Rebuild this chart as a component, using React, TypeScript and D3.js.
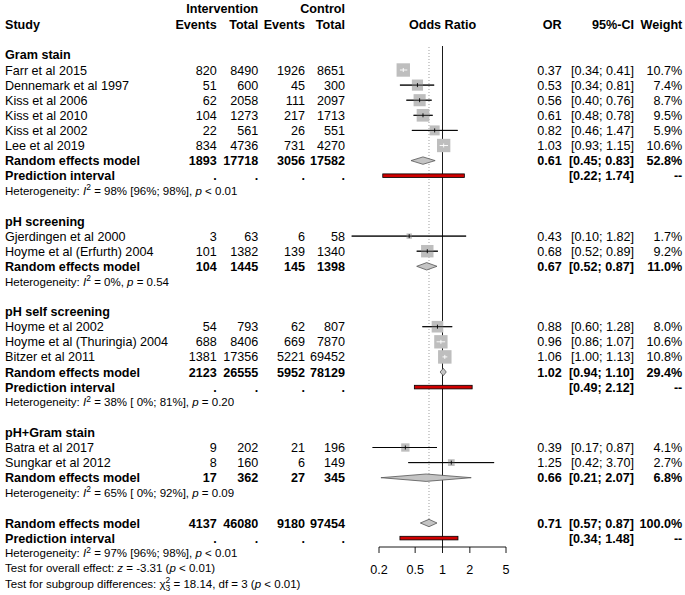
import React from "react";
import * as d3 from "d3";

// ---------- data ----------
const studyNames = [
  "Farr et al 2015",
  "Dennemark et al 1997",
  "Kiss et al 2006",
  "Kiss et al 2010",
  "Kiss et al 2002",
  "Lee et al 2019",
  "Gjerdingen et al 2000",
  "Hoyme et al (Erfurth) 2004",
  "Hoyme et al 2002",
  "Hoyme et al (Thuringia) 2004",
  "Bitzer et al 2011",
  "Batra et al 2017",
  "Sungkar et al 2012",
];
const studyGroup = [0, 0, 0, 0, 0, 0, 1, 1, 2, 2, 2, 3, 3];
const eventsE = [820, 51, 62, 104, 22, 834, 3, 101, 54, 688, 1381, 9, 8];
const totalE = [8490, 600, 2058, 1273, 561, 4736, 63, 1382, 793, 8406, 17356, 202, 160];
const eventsC = [1926, 45, 111, 217, 26, 731, 6, 139, 62, 669, 5221, 21, 6];
const totalC = [8651, 300, 2097, 1713, 551, 4270, 58, 1340, 807, 7870, 69452, 196, 149];
const studyOR = [0.37, 0.53, 0.56, 0.61, 0.82, 1.03, 0.43, 0.68, 0.88, 0.96, 1.06, 0.39, 1.25];
const studyLo = [0.34, 0.34, 0.4, 0.48, 0.46, 0.93, 0.1, 0.52, 0.6, 0.86, 1.0, 0.17, 0.42];
const studyHi = [0.41, 0.81, 0.76, 0.78, 1.47, 1.15, 1.82, 0.89, 1.28, 1.07, 1.13, 0.87, 3.7];
const studyWeight = [10.7, 7.4, 8.7, 9.5, 5.9, 10.6, 1.7, 9.2, 8.0, 10.6, 10.8, 4.1, 2.7];

const groupNames = ["Gram stain", "pH screening", "pH self screening", "pH+Gram stain"];
const groupEventsE = [1893, 104, 2123, 17];
const groupTotalE = [17718, 1445, 26555, 362];
const groupEventsC = [3056, 145, 5952, 27];
const groupTotalC = [17582, 1398, 78129, 345];
const groupOR = [0.61, 0.67, 1.02, 0.66];
const groupLo = [0.45, 0.52, 0.94, 0.21];
const groupHi = [0.83, 0.87, 1.1, 2.07];
const groupWeight = [52.8, 11.0, 29.4, 6.8];
const groupPiLo: (number | null)[] = [0.22, null, 0.49, null];
const groupPiHi: (number | null)[] = [1.74, null, 2.12, null];
const groupI2 = ["98% [96%; 98%]", "0%", "38% [ 0%; 81%]", "65% [ 0%; 92%]"];
const groupP = ["< 0.01", "= 0.54", "= 0.20", "= 0.09"];

const overallCounts = [4137, 46080, 9180, 97454];
const overallOR = 0.71;
const overallLo = 0.57;
const overallHi = 0.87;
const overallWeight = 100.0;
const overallPiLo = 0.34;
const overallPiHi = 1.48;
const overallI2 = "97% [96%; 98%]";
const overallP = "< 0.01";
const overallZ = "-3.31";
const overallZP = "< 0.01";
const subgroupChi = "18.14";
const subgroupDf = 3;
const subgroupP = "< 0.01";

const tickValues = [0.2, 0.5, 1, 2, 5];
const tickLabels = ["0.2", "0.5", "1", "2", "5"];

// ---------- layout ----------
const W = 685;
const H = 595;
const FONT = "'Liberation Sans', Arial, Helvetica, sans-serif";
const FS = 12.6;
const FS_SMALL = 11.5;
const FS_SUP = 8.5;
const ROW0 = 70;
const ROWH = 15.1;
const rowY = (k: number) => ROW0 + k * ROWH;

const COL_NAME = 5;
const COL_EVE = 216.7;
const COL_TOTE = 258.3;
const COL_EVC = 305;
const COL_TOTC = 345;
const COL_OR = 561.7;
const COL_CI = 634;
const COL_W = 682.3;
const AXIS_Y = 547;

const fmt2 = (v: number) => v.toFixed(2);
const ciText = (lo: number, hi: number) => `[${fmt2(lo)}; ${fmt2(hi)}]`;

type Row =
  | { type: "title"; k: number; label: string }
  | { type: "study"; k: number; i: number }
  | { type: "rem"; k: number; counts: number[]; or: number; lo: number; hi: number; w: number }
  | { type: "pi"; k: number; lo: number; hi: number }
  | { type: "het"; k: number; i2: string; p: string }
  | { type: "zline"; k: number }
  | { type: "chiline"; k: number };

function buildRows(): Row[] {
  const rows: Row[] = [];
  let k = -1;
  groupNames.forEach((g, gi) => {
    rows.push({ type: "title", k: k++, label: g });
    studyNames.forEach((_, i) => {
      if (studyGroup[i] === gi) rows.push({ type: "study", k: k++, i });
    });
    rows.push({
      type: "rem",
      k: k++,
      counts: [groupEventsE[gi], groupTotalE[gi], groupEventsC[gi], groupTotalC[gi]],
      or: groupOR[gi],
      lo: groupLo[gi],
      hi: groupHi[gi],
      w: groupWeight[gi],
    });
    const pl = groupPiLo[gi];
    const ph = groupPiHi[gi];
    if (pl != null && ph != null) rows.push({ type: "pi", k: k++, lo: pl, hi: ph });
    rows.push({ type: "het", k: k++, i2: groupI2[gi], p: groupP[gi] });
    k++;
  });
  rows.push({
    type: "rem",
    k: k++,
    counts: overallCounts,
    or: overallOR,
    lo: overallLo,
    hi: overallHi,
    w: overallWeight,
  });
  rows.push({ type: "pi", k: k++, lo: overallPiLo, hi: overallPiHi });
  rows.push({ type: "het", k: k++, i2: overallI2, p: overallP });
  rows.push({ type: "zline", k: k++ });
  rows.push({ type: "chiline", k: k++ });
  return rows;
}

const T = (props: any) => (
  <text fontFamily={FONT} fontSize={FS} fill="#000" {...props} />
);

export default function App() {
  const x = d3.scaleLog().domain([0.2, 5]).range([379, 506]);
  const rows = buildRows();
  const dy = FS * 0.36;
  const dyS = FS_SMALL * 0.36;
  const lastRem = rows.filter((r) => r.type === "rem").slice(-1)[0];
  const dottedBottom = rowY(lastRem.k) - 3.7;

  const els: React.ReactNode[] = [];

  rows.forEach((r, idx) => {
    const y = rowY(r.k);
    if (r.type === "title") {
      els.push(
        <T key={idx} x={COL_NAME} y={y + dy} fontWeight="bold">
          {r.label}
        </T>
      );
    } else if (r.type === "study") {
      const i = r.i;
      const cols = [COL_EVE, COL_TOTE, COL_EVC, COL_TOTC];
      const vals = [eventsE[i], totalE[i], eventsC[i], totalC[i]];
      els.push(
        <g key={idx}>
          <T x={COL_NAME} y={y + dy}>{studyNames[i]}</T>
          {vals.map((v, j) => (
            <T key={j} x={cols[j]} y={y + dy} textAnchor="end">{v}</T>
          ))}
          <T x={COL_OR} y={y + dy} textAnchor="end">{fmt2(studyOR[i])}</T>
          <T x={COL_CI} y={y + dy} textAnchor="end">{ciText(studyLo[i], studyHi[i])}</T>
          <T x={COL_W} y={y + dy} textAnchor="end">{studyWeight[i].toFixed(1) + "%"}</T>
        </g>
      );
      const side = 4.1 * Math.sqrt(studyWeight[i]);
      const cx = x(studyOR[i]);
      const x0 = x(studyLo[i]);
      const x1 = x(studyHi[i]);
      const inside = x0 >= cx - side / 2 && x1 <= cx + side / 2;
      const lc = inside ? "#fff" : "#000";
      els.push(
        <g key={"m" + idx}>
          {!inside && <line x1={x0} x2={x1} y1={y} y2={y} stroke="#000" strokeWidth={0.9} />}
          <rect x={cx - side / 2} y={y - side / 2} width={side} height={side} fill="#bebebe" />
          <line x1={x0} x2={x1} y1={y} y2={y} stroke={lc} strokeWidth={0.9} />
          <line x1={cx} x2={cx} y1={y - 2} y2={y + 2} stroke={lc} strokeWidth={0.9} />
        </g>
      );
    } else if (r.type === "rem") {
      const cols = [COL_EVE, COL_TOTE, COL_EVC, COL_TOTC];
      const x0 = x(r.lo);
      const x1 = x(r.hi);
      const cx = x(r.or);
      const hh = 3.7;
      els.push(
        <g key={idx}>
          <T x={COL_NAME} y={y + dy} fontWeight="bold">Random effects model</T>
          {r.counts.map((v, j) => (
            <T key={j} x={cols[j]} y={y + dy} textAnchor="end" fontWeight="bold">{v}</T>
          ))}
          <T x={COL_OR} y={y + dy} textAnchor="end" fontWeight="bold">{fmt2(r.or)}</T>
          <T x={COL_CI} y={y + dy} textAnchor="end" fontWeight="bold">{ciText(r.lo, r.hi)}</T>
          <T x={COL_W} y={y + dy} textAnchor="end" fontWeight="bold">{r.w.toFixed(1) + "%"}</T>
          <path
            d={`M${x0},${y} L${cx},${y - hh} L${x1},${y} L${cx},${y + hh} Z`}
            fill="#c4c4c4"
            stroke="#555"
            strokeWidth={0.8}
          />
        </g>
      );
    } else if (r.type === "pi") {
      const cols = [COL_EVE, COL_TOTE, COL_EVC, COL_TOTC];
      const x0 = x(r.lo);
      const x1 = x(r.hi);
      els.push(
        <g key={idx}>
          <T x={COL_NAME} y={y + dy} fontWeight="bold">Prediction interval</T>
          {cols.map((c, j) => (
            <T key={j} x={c} y={y + dy} textAnchor="end" fontWeight="bold">.</T>
          ))}
          <T x={COL_CI} y={y + dy} textAnchor="end" fontWeight="bold">{ciText(r.lo, r.hi)}</T>
          <T x={COL_W} y={y + dy} textAnchor="end" fontWeight="bold">--</T>
          <rect x={x0} y={y - 1.8} width={x1 - x0} height={3.6} fill="#d00000" stroke="#000" strokeWidth={0.8} />
        </g>
      );
    } else if (r.type === "het") {
      els.push(
        <text key={idx} x={COL_NAME} y={y + dyS} fontFamily={FONT} fontSize={FS_SMALL} fill="#000">
          <tspan>Heterogeneity: </tspan>
          <tspan fontStyle="italic">I</tspan>
          <tspan dy={-4.5} fontSize={FS_SUP}>2</tspan>
          <tspan dy={4.5}>{` = ${r.i2}, `}</tspan>
          <tspan fontStyle="italic">p</tspan>
          <tspan>{` ${r.p}`}</tspan>
        </text>
      );
    } else if (r.type === "zline") {
      els.push(
        <text key={idx} x={COL_NAME} y={y + dyS} fontFamily={FONT} fontSize={FS_SMALL} fill="#000">
          <tspan>Test for overall effect: </tspan>
          <tspan fontStyle="italic">z</tspan>
          <tspan>{` = ${overallZ} (`}</tspan>
          <tspan fontStyle="italic">p</tspan>
          <tspan>{` ${overallZP})`}</tspan>
        </text>
      );
    } else if (r.type === "chiline") {
      els.push(
        <text key={idx} x={COL_NAME} y={y + dyS} fontFamily={FONT} fontSize={FS_SMALL} fill="#000">
          <tspan>Test for subgroup differences: </tspan>
          <tspan>χ</tspan>
          <tspan dy={-4.5} fontSize={FS_SUP}>2</tspan>
          <tspan dx={-4.7} dy={8} fontSize={FS_SUP}>{String(subgroupDf)}</tspan>
          <tspan dy={-3.5}>{` = ${subgroupChi}, df = ${subgroupDf} (`}</tspan>
          <tspan fontStyle="italic">p</tspan>
          <tspan>{` ${subgroupP})`}</tspan>
        </text>
      );
    }
  });

  const h1 = 8.5;
  const h2 = 24;

  return (
    <svg
      width={W}
      height={H}
      style={{ position: "absolute", left: 0, top: 0, background: "#fff" }}
    >
      <rect x={0} y={0} width={W} height={H} fill="#fff" />
      <T x={COL_TOTE} y={h1 + dy} textAnchor="end" fontWeight="bold">Intervention</T>
      <T x={COL_TOTC} y={h1 + dy} textAnchor="end" fontWeight="bold">Control</T>
      <T x={COL_NAME} y={h2 + dy} fontWeight="bold">Study</T>
      <T x={COL_EVE} y={h2 + dy} textAnchor="end" fontWeight="bold">Events</T>
      <T x={COL_TOTE} y={h2 + dy} textAnchor="end" fontWeight="bold">Total</T>
      <T x={COL_EVC} y={h2 + dy} textAnchor="end" fontWeight="bold">Events</T>
      <T x={COL_TOTC} y={h2 + dy} textAnchor="end" fontWeight="bold">Total</T>
      <T x={x(1)} y={h2 + dy} textAnchor="middle" fontWeight="bold">Odds Ratio</T>
      <T x={COL_OR} y={h2 + dy} textAnchor="end" fontWeight="bold">OR</T>
      <T x={COL_CI} y={h2 + dy} textAnchor="end" fontWeight="bold">95%-CI</T>
      <T x={COL_W} y={h2 + dy} textAnchor="end" fontWeight="bold">Weight</T>

      <line x1={x(overallOR)} x2={x(overallOR)} y1={47} y2={dottedBottom} stroke="#888" strokeWidth={0.8} strokeDasharray="1,2" />
      <line x1={x(1)} x2={x(1)} y1={46} y2={AXIS_Y} stroke="#000" strokeWidth={0.9} />

      {els}

      <line x1={x(tickValues[0])} x2={x(tickValues[tickValues.length - 1])} y1={AXIS_Y} y2={AXIS_Y} stroke="#000" strokeWidth={0.9} />
      {tickValues.map((t, i) => (
        <g key={"t" + i}>
          <line x1={x(t)} x2={x(t)} y1={AXIS_Y} y2={AXIS_Y + 6} stroke="#000" strokeWidth={0.9} />
          <T x={x(t)} y={574} textAnchor="middle">{tickLabels[i]}</T>
        </g>
      ))}
    </svg>
  );
}
